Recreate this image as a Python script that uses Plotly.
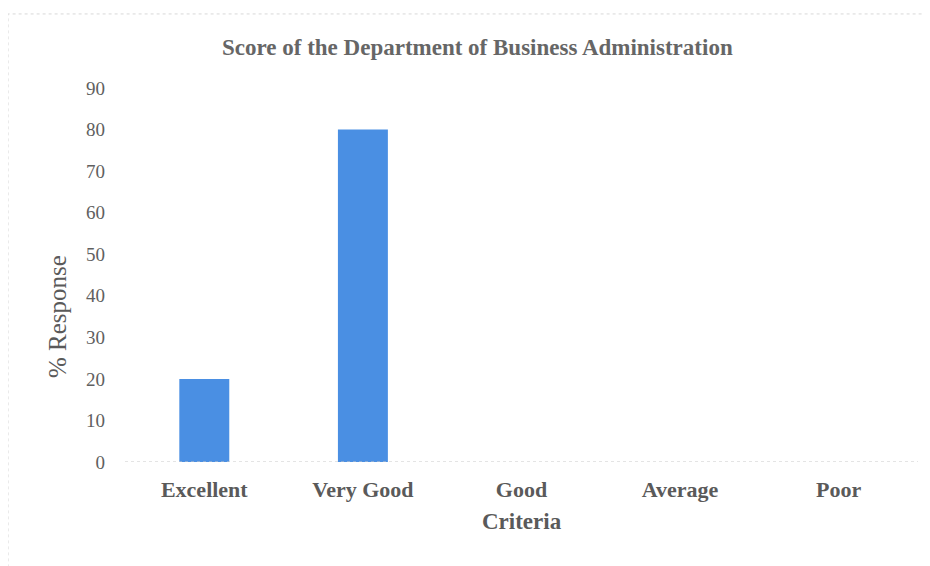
import plotly.graph_objects as go

categories = ["Excellent", "Very Good", "Good", "Average", "Poor"]
responses = [20, 80, 0, 0, 0]
y_ticks = [0, 10, 20, 30, 40, 50, 60, 70, 80, 90]

fig = go.Figure()
fig.add_trace(go.Bar(
    x=categories, y=responses,
    marker=dict(color="#4a8fe3", line=dict(width=0)),
    width=0.315,
))

font_family = "Liberation Serif, Times New Roman, serif"
txt_color = "#5a5a5a"
fig.update_layout(
    width=930, height=566,
    margin=dict(l=117, r=20, t=80, b=112),
    paper_bgcolor="white", plot_bgcolor="white",
    showlegend=False,
    font=dict(family=font_family),
    shapes=[
        dict(type="rect", xref="paper", yref="paper",
             x0=-0.1475, x1=1.2, y0=-0.6, y1=1.198,
             line=dict(color="#d8d8d8", width=1, dash="dot")),
        dict(type="line", xref="paper", yref="y",
             x0=0, x1=1, y0=0, y1=0,
             line=dict(color="#c8c8c8", width=1, dash="dot")),
    ],
    annotations=[
        dict(text="<b>Score of the Department of Business Administration</b>",
             xref="paper", yref="paper", x=0.445, y=1.107,
             xanchor="center", yanchor="middle", showarrow=False,
             font=dict(family=font_family, size=23, color="#666666")),
        dict(text="<b>Criteria</b>",
             xref="paper", yref="paper", x=0.501, y=-0.160,
             xanchor="center", yanchor="middle", showarrow=False,
             font=dict(family=font_family, size=23, color=txt_color)),
        dict(text="% Response",
             xref="paper", yref="paper", x=-0.0858, y=0.39,
             xanchor="center", yanchor="middle", showarrow=False,
             textangle=-90,
             font=dict(family=font_family, size=25, color=txt_color)),
    ],
)
fig.update_xaxes(
    showgrid=False, showline=False, zeroline=False,
    ticks="", ticklabelstandoff=12,
    tickfont=dict(family=font_family, size=22, color=txt_color),
    tickvals=categories, ticktext=["<b>%s</b>" % c for c in categories],
    range=[-0.5, 4.5],
)
fig.update_yaxes(
    range=[0, 90], tickvals=y_ticks, showgrid=False, zeroline=False,
    showline=False, ticks="", ticklabelstandoff=19,
    tickfont=dict(family=font_family, size=19, color="#606060"),
)
fig.write_html("out.html")
